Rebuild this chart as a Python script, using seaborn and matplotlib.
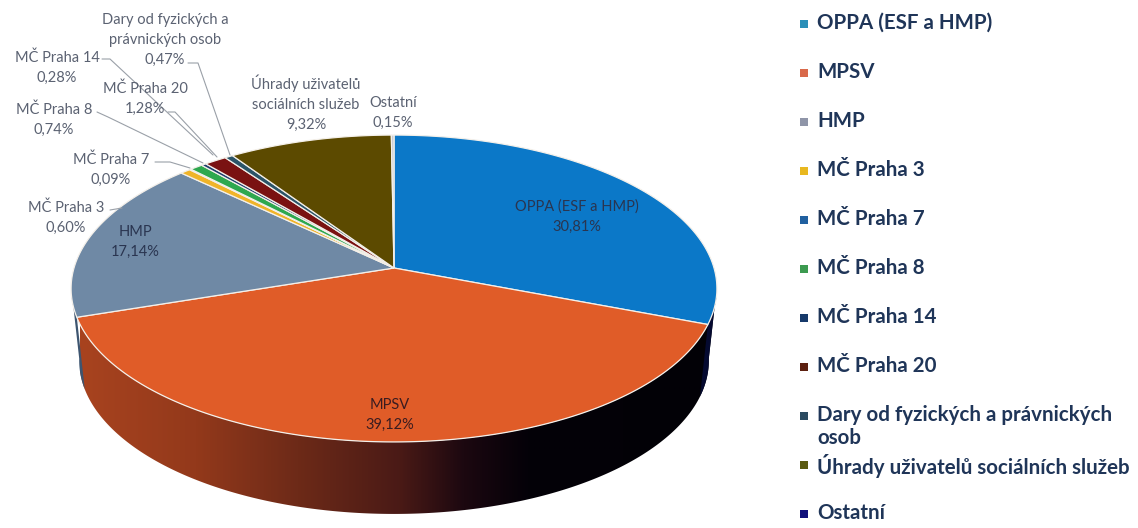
import numpy as np
import matplotlib.pyplot as plt
from matplotlib.colors import LinearSegmentedColormap
from matplotlib.patches import Polygon
import seaborn as sns

categories = ['OPPA (ESF a HMP)', 'MPSV', 'HMP', 'MČ Praha 3', 'MČ Praha 7', 'MČ Praha 8',
              'MČ Praha 14', 'MČ Praha 20', 'Dary od fyzických a právnických\nosob',
              'Úhrady uživatelů sociálních služeb', 'Ostatní']
values = [30.81, 39.12, 17.14, 0.60, 0.09, 0.74, 0.28, 1.28, 0.47, 9.32, 0.15]
pie_colors = ['#0b78c8', '#e05c28', '#6f89a5', '#f0b429', '#2a6aad', '#2ea84f',
              '#1f3f6e', '#7a1212', '#2b5468', '#5c4a00', '#c8ccd4']
legend_colors = ['#2a8fb8', '#d9694a', '#8f95a8', '#e8b820', '#2060a0', '#3c9a50',
                 '#16396a', '#5c2010', '#2a4a60', '#5a5a10', '#10107a']

sns.set_theme(style='white')
plt.rcParams['font.family'] = ['Lato', 'DejaVu Sans']

fig, ax = plt.subplots(figsize=(11.38, 5.28), dpi=100)
ax.set_position([0, 0, 1, 1])
ax.set_xlim(0, 1138)
ax.set_ylim(528, 0)
ax.axis('off')

# pie seen in perspective, the apex is above the middle of the ellipse
cx, cy = 394, 268
a, b, k = 320, 150.7, 0.1336
depth, shrink = 72, 0.975


def rim(t1, t2):
    t = np.radians(np.linspace(t1, t2, max(int(abs(t2 - t1) * 3), 2)))
    d = 1 + k * np.cos(t)
    return cx + a * np.sin(t) / d, cy - b * np.cos(t) / d


def wall(t1, t2):
    x, y = rim(t1, t2)
    xb = cx + (x - cx) * shrink
    yb = y + depth
    return np.r_[np.c_[x, y], np.c_[xb, yb][::-1]]


angles = np.cumsum([0] + values) * 3.6

# side wall
side_cmap = LinearSegmentedColormap.from_list(
    'side', [(0, '#a8431f'), (0.18, '#93391b'), (0.34, '#6d2a18'), (0.5, '#4a1a16'),
             (0.6, '#1c0810'), (0.7, '#040108'), (1, '#020106')])
grad = np.linspace(0, 1, 256).reshape(1, -1)
img = ax.imshow(grad, cmap=side_cmap, extent=(80, 720, 528, 0), aspect='auto', zorder=1)
side = Polygon(wall(97, 263), closed=True, transform=ax.transData, fc='none', ec='none')
ax.add_patch(side)
img.set_clip_path(side)
ax.fill(*np.c_[wall(97, angles[1])].T, color='#050a30', lw=0, zorder=1.5)
ax.fill(*np.c_[wall(angles[2], 263)].T, color='#3d5570', lw=0, zorder=1.5)
ax.set_xlim(0, 1138)
ax.set_ylim(528, 0)

# top face
for i, col in enumerate(pie_colors):
    x, y = rim(angles[i], angles[i + 1])
    ax.fill(np.r_[cx, x], np.r_[cy, y], facecolor=col, edgecolor='#f4f0ea', lw=0.9, zorder=2)

# labels
lab = '#5b6272'
inner = '#2a3550'
label_pos = [
    ('Dary od fyzických a\nprávnických osob\n0,47%', 165, 40, lab),
    ('MČ Praha 14\n0,28%', 57, 68, lab),
    ('MČ Praha 20\n1,28%', 145, 99, lab),
    ('MČ Praha 8\n0,74%', 54, 120, lab),
    ('MČ Praha 7\n0,09%', 111, 170, lab),
    ('MČ Praha 3\n0,60%', 66, 218, lab),
    ('HMP\n17,14%', 135, 242, inner),
    ('Úhrady uživatelů\nsociálních služeb\n9,32%', 306, 103, lab),
    ('Ostatní\n0,15%', 393, 113, lab),
    ('OPPA (ESF a HMP)\n30,81%', 577, 217, inner),
    ('MPSV\n39,12%', 390, 415, '#3a1c20'),
]
for txt, x, y, col in label_pos:
    ax.text(x, y, txt, ha='center', va='center', fontsize=10.5, color=col,
            linespacing=1.55, zorder=4)

leaders = [
    ([102, 110, 213], [59, 59, 155]),
    ([188, 198, 230], [63, 63, 155]),
    ([168, 175, 217], [112, 112, 157]),
    ([97, 108, 203], [112, 117, 163]),
    ([155, 170, 190], [162, 162, 168]),
    ([110, 122], [210, 208]),
]
for xs, ys in leaders:
    ax.plot(xs, ys, color='#9aa0a8', lw=0.8, zorder=3)

# legend
for i, name in enumerate(categories):
    row = 24 + 49 * i
    ax.plot(804.5, row, marker='s', ms=5.5, color=legend_colors[i], mew=0, zorder=4)
    ax.text(817, row - 11, name, ha='left', va='top', fontsize=14.8, fontweight='bold',
            color='#1f3558', linespacing=1.2, zorder=4)

fig.savefig('out.png', dpi=100)
